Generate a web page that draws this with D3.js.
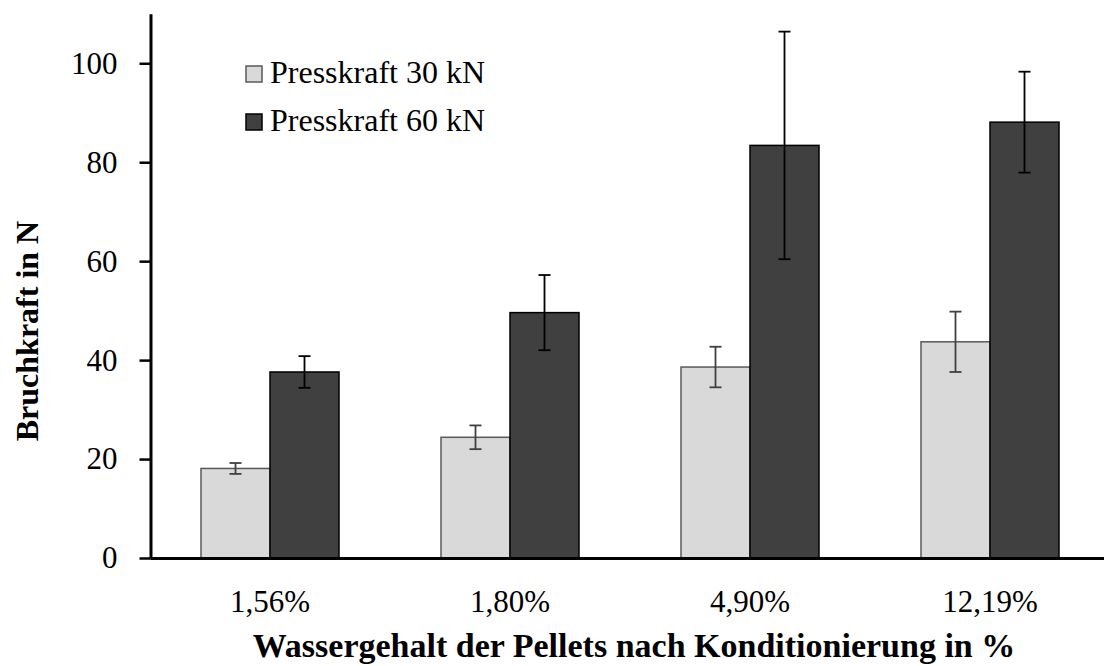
<!DOCTYPE html>
<html>
<head>
<meta charset="utf-8">
<script src="https://cdn.jsdelivr.net/npm/d3@7"></script>
<style>
  html, body { margin: 0; padding: 0; background: #fff; }
  svg { display: block; font-family: "Liberation Serif", "Times New Roman", serif; }
</style>
</head>
<body>
<svg id="chart" width="1104" height="666"></svg>
<script>
// Wassergehalt categories and breaking force (mean ± standard deviation)
const categories = ["1,56%", "1,80%", "4,90%", "12,19%"];
const seriesNames = ["Presskraft 30 kN", "Presskraft 60 kN"];
const force30 = [18.1, 24.4, 38.6, 43.7];
const error30 = [1.1, 2.4, 4.1, 6.1];
const force60 = [37.6, 49.6, 83.4, 88.1];
const error60 = [3.2, 7.6, 23.0, 10.2];
const yTicks = [0, 20, 40, 60, 80, 100];

const xTitle = "Wassergehalt der Pellets nach Konditionierung in %";
const yTitle = "Bruchkraft in N";

const fills = ["#d9d9d9", "#404040"];
const strokes = ["#595959", "#000000"];
const errColors = ["#404040", "#000000"];

const svg = d3.select("#chart");

const y = d3.scaleLinear().domain([0, 110]).range([558, 13.8]);
const x0 = d3.scaleBand().domain(categories).range([150, 1110])
  .paddingInner(0.425).paddingOuter(0.2125);
const x1 = d3.scaleBand().domain(seriesNames).range([0, x0.bandwidth()]);

const rows = categories.map((c, i) => ({
  cat: c,
  values: [
    { s: 0, name: seriesNames[0], v: force30[i], e: error30[i] },
    { s: 1, name: seriesNames[1], v: force60[i], e: error60[i] }
  ]
}));

// bars
const groups = svg.append("g").selectAll("g").data(rows).join("g")
  .attr("transform", d => `translate(${x0(d.cat)},0)`);

groups.selectAll("rect").data(d => d.values).join("rect")
  .attr("x", d => x1(d.name))
  .attr("y", d => y(d.v))
  .attr("width", x1.bandwidth())
  .attr("height", d => y(0) - y(d.v))
  .attr("fill", d => fills[d.s])
  .attr("stroke", d => strokes[d.s])
  .attr("stroke-width", 1.5);

// error bars
const eb = groups.selectAll("g.err").data(d => d.values).join("g").attr("class", "err")
  .attr("stroke", d => errColors[d.s])
  .attr("stroke-width", 1.8);
const cap = 6;
eb.append("line")
  .attr("x1", d => x1(d.name) + x1.bandwidth() / 2)
  .attr("x2", d => x1(d.name) + x1.bandwidth() / 2)
  .attr("y1", d => y(d.v + d.e))
  .attr("y2", d => y(d.v - d.e));
eb.append("line")
  .attr("x1", d => x1(d.name) + x1.bandwidth() / 2 - cap)
  .attr("x2", d => x1(d.name) + x1.bandwidth() / 2 + cap)
  .attr("y1", d => y(d.v + d.e))
  .attr("y2", d => y(d.v + d.e));
eb.append("line")
  .attr("x1", d => x1(d.name) + x1.bandwidth() / 2 - cap)
  .attr("x2", d => x1(d.name) + x1.bandwidth() / 2 + cap)
  .attr("y1", d => y(d.v - d.e))
  .attr("y2", d => y(d.v - d.e));

// y axis
const yAxis = svg.append("g").attr("transform", "translate(150.5,0)")
  .call(d3.axisLeft(y).tickValues(yTicks).tickSize(11).tickPadding(22).tickSizeOuter(0));
yAxis.select(".domain").attr("stroke", "#000").attr("stroke-width", 3);
yAxis.selectAll(".tick line").attr("stroke", "#000").attr("stroke-width", 2.5);
yAxis.selectAll(".tick text")
  .attr("font-family", "Liberation Serif, serif")
  .attr("font-size", 31)
  .attr("fill", "#000");

// x axis
const xAxis = svg.append("g").attr("transform", `translate(0,${y(0)})`)
  .call(d3.axisBottom(x0).tickSize(0).tickPadding(32).tickSizeOuter(0));
xAxis.select(".domain").attr("stroke", "#000").attr("stroke-width", 3);
xAxis.selectAll(".tick text")
  .attr("font-family", "Liberation Serif, serif")
  .attr("font-size", 31)
  .attr("fill", "#000");

// axis titles
svg.append("text")
  .attr("x", 634).attr("y", 657)
  .attr("text-anchor", "middle")
  .attr("font-size", 34).attr("font-weight", "bold")
  .text(xTitle);

svg.append("text")
  .attr("transform", "translate(38,331) rotate(-90)")
  .attr("text-anchor", "middle")
  .attr("font-size", 32).attr("font-weight", "bold")
  .text(yTitle);

// legend
const legend = svg.append("g").attr("transform", "translate(246,66)");
const li = legend.selectAll("g").data(seriesNames).join("g")
  .attr("transform", (d, i) => `translate(0,${i * 48})`);
li.append("rect")
  .attr("width", 16).attr("height", 16)
  .attr("fill", (d, i) => fills[i])
  .attr("stroke", (d, i) => strokes[i])
  .attr("stroke-width", 1.5);
li.append("text")
  .attr("x", 24).attr("y", 17)
  .attr("font-size", 32)
  .text(d => d);
</script>
</body>
</html>
